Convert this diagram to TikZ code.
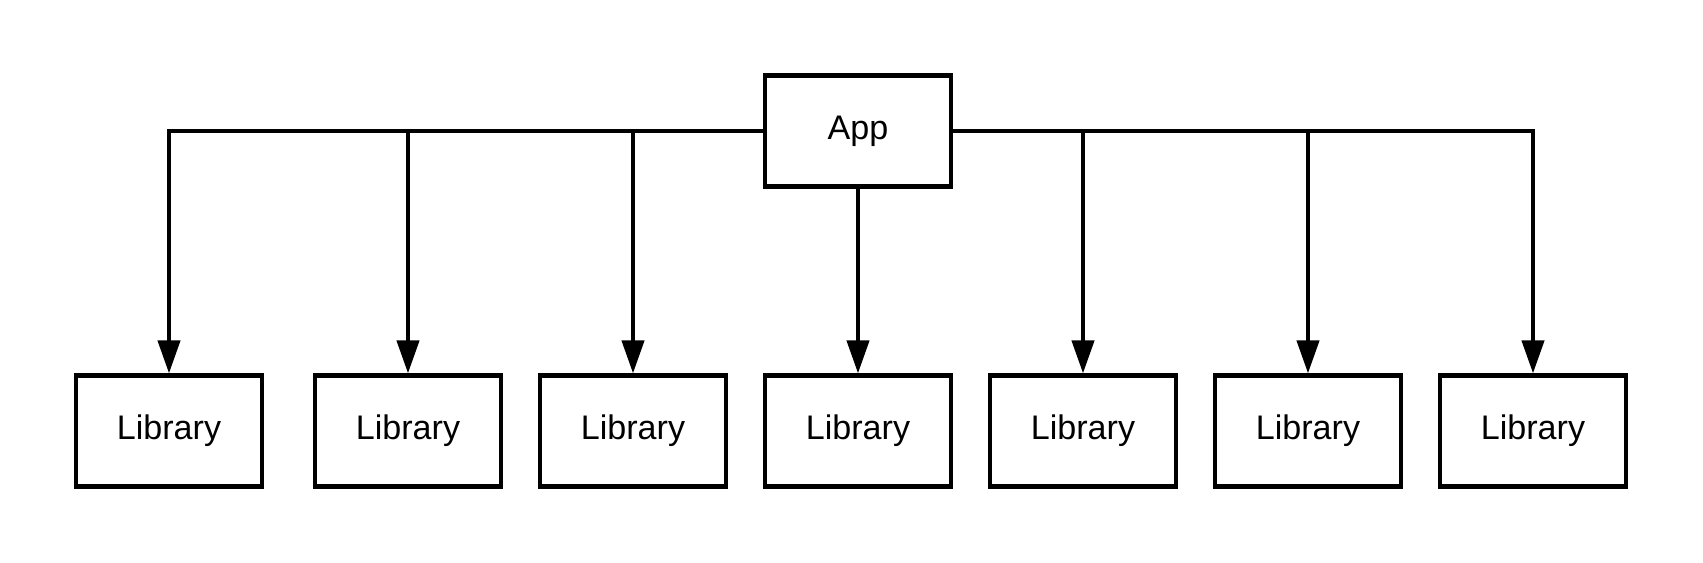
\documentclass[tikz,border=0pt]{standalone}
\usepackage{fontspec}
\setmainfont{Liberation Sans}
\usetikzlibrary{arrows.meta}
\tikzset{
box/.style={draw, line width=1.2pt, minimum width=1.86cm, minimum height=1.11cm, inner sep=0pt, font=\fontsize{9.7}{11}\selectfont},
link/.style={line width=1.2pt, -{Triangle[length=0.33cm,width=0.22cm]}}
}

\begin{document}
\begin{tikzpicture}
  \useasboundingbox (0,0) rectangle (17.03,5.63);
  \node[box] (app) at (8.58,4.32) {App};
  \foreach \x/\n in {1.69/1,4.08/2,6.33/3,8.58/4,10.83/5,13.08/6,15.33/7}
    \node[box] (lib\n) at (\x,1.32) {Library};
  \draw[link] (app.south) -- (lib4.north);
  \foreach \n in {1,2,3}
    \draw[link] (app.west) -| (lib\n.north);
  \foreach \n in {5,6,7}
    \draw[link] (app.east) -| (lib\n.north);
\end{tikzpicture}
\end{document}
